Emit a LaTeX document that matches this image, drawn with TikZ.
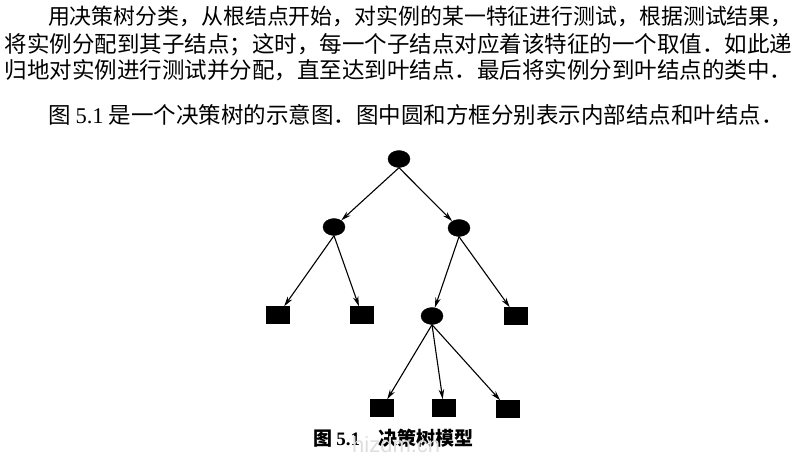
\documentclass[tikz,border=0pt]{standalone}
\usepackage{fontspec}
\setmainfont{Liberation Serif}
\newfontfamily\cjk{Noto Sans CJK SC}
\newfontfamily\wmfont{Liberation Sans}
\usetikzlibrary{arrows.meta,shapes.geometric}
\tikzset{
  inner/.style={ellipse, fill=black, draw=black, minimum width=22pt, minimum height=17pt, inner sep=0pt},
  leaf/.style={rectangle, fill=black, draw=black, minimum width=23pt, minimum height=17pt, inner sep=0pt},
  edge/.style={line width=1.1pt, -{Stealth[length=10pt,width=5.5pt]}},
  bodytext/.style={anchor=base west, inner sep=0pt, outer sep=0pt, font=\cjk\fontsize{22.5}{27}\selectfont},
  captext/.style={anchor=base west, inner sep=0pt, outer sep=0pt, font=\cjk\bfseries\fontsize{19}{23}\selectfont},
}
\begin{document}
\begin{tikzpicture}[x=1pt,y=-1pt]
\path[use as bounding box] (0,0) rectangle (800,471);
% body text
\node[bodytext, font=\cjk\fontsize{21.9}{27}\selectfont] (l1) at (48,24.5) {用决策树分类，从根结点开始，对实例的某一特征进行测试，根据测试结果，};
\node[bodytext] (l2) at (5,52) {将实例分配到其子结点；这时，每一个子结点对应着该特征的一个取值．如此递};
\node[bodytext] (l3) at (5,78.5) {归地对实例进行测试并分配，直至达到叶结点．最后将实例分到叶结点的类中．};
\node[bodytext] (l4) at (48,123) {图 {\rmfamily 5.1} 是一个决策树的示意图．图中圆和方框分别表示内部结点和叶结点．};
% tree
\node[inner] (root) at (399,159) {};
\node[inner] (a) at (334,227) {};
\node[inner] (b) at (459,228) {};
\node[leaf] (f1) at (278,315) {};
\node[leaf] (f2) at (362,315) {};
\node[inner] (c) at (432,316) {};
\node[leaf] (f3) at (516,316) {};
\node[leaf] (g1) at (382,408) {};
\node[leaf] (g2) at (444,408) {};
\node[leaf] (g3) at (508,409) {};
\draw[edge] (root.south) -- (a);
\draw[edge] (root.south) -- (b);
\draw[edge] (a.south) -- (f1);
\draw[edge] (a.south) -- (f2);
\draw[edge] (b.south) -- (c);
\draw[edge] (b.south) -- (f3);
\draw[edge] (c.south) -- (g1);
\draw[edge] (c.south) -- (g2);
\draw[edge] (c.south) -- (g3);
% caption
\node[captext] (cap) at (313,445) {图 {\rmfamily\bfseries 5.1}\hspace{18pt}决策树模型};
\node[anchor=base west, inner sep=0pt, text=black!13, font=\wmfont\fontsize{22}{26}\selectfont] (wm) at (352,452) {hizdm.cn};
\end{tikzpicture}
\end{document}
